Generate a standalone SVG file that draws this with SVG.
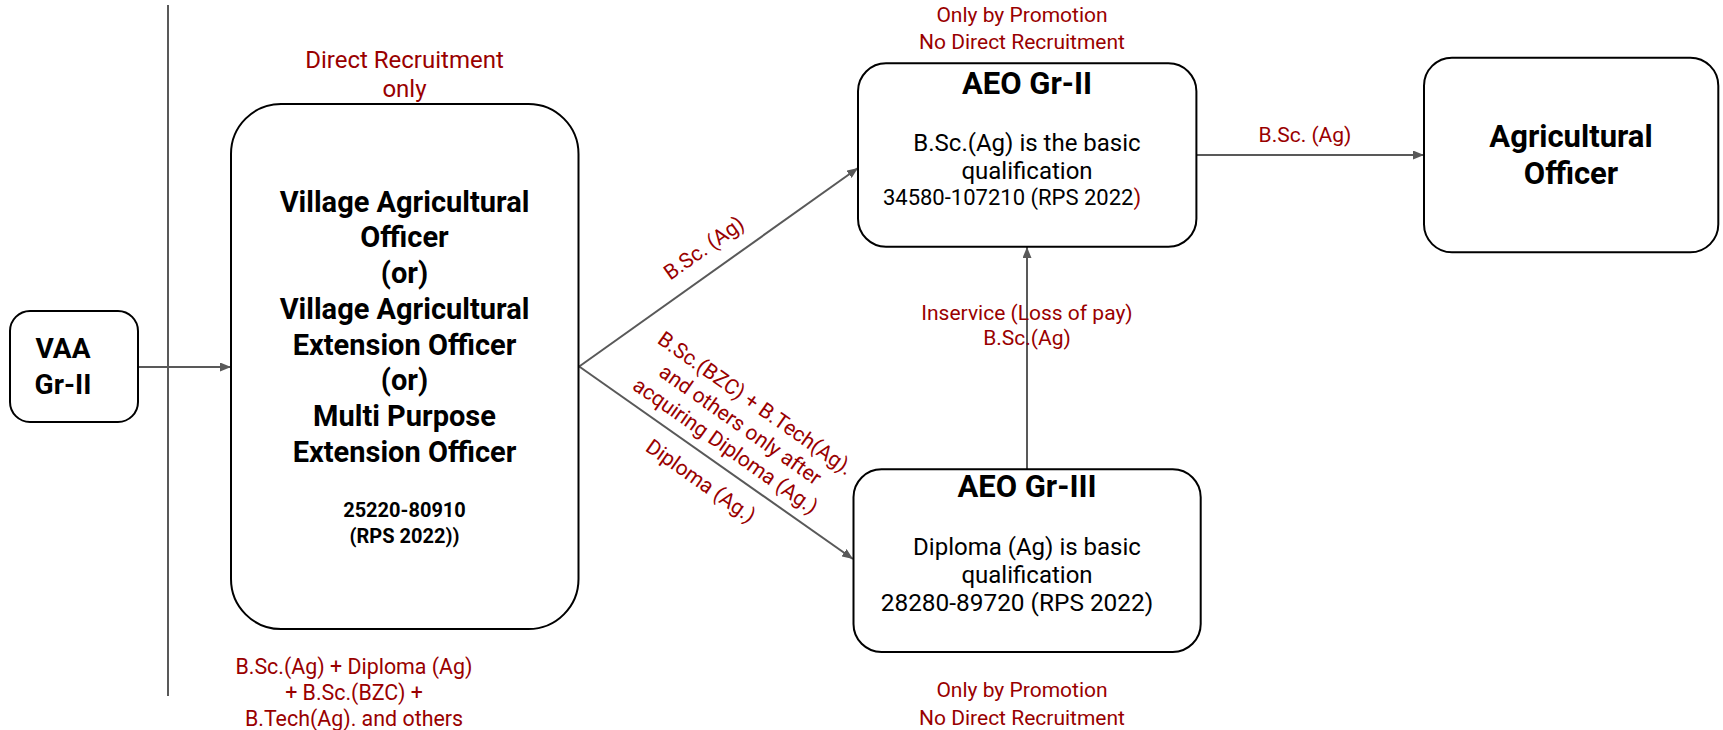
<svg xmlns="http://www.w3.org/2000/svg" width="1723" height="730" viewBox="0 0 1723 730">
<defs>
<style>
.box{fill:#fff;stroke:#000;stroke-width:2}
.con{stroke:#595959;stroke-width:2;fill:none}
.t{font-family:Roboto,"Liberation Sans",sans-serif;fill:#000}
.b{font-weight:bold}
.r{font-family:Roboto,"Liberation Sans",sans-serif;fill:#990000;font-size:21px}
.m{text-anchor:middle}
</style>
<marker id="ah" markerWidth="11" markerHeight="9" refX="11" refY="4.5" orient="auto" markerUnits="userSpaceOnUse">
<path d="M0,0 L11,4.5 L0,9 z" fill="#595959"/>
</marker>
</defs>
<rect width="1723" height="730" fill="#fff"/>

<g id="connectors">
<line class="con" x1="168" y1="5" x2="168" y2="696"/>
<line class="con" x1="138" y1="367" x2="231" y2="367" marker-end="url(#ah)"/>
<line class="con" x1="578.5" y1="367" x2="858" y2="168" marker-end="url(#ah)"/>
<line class="con" x1="578.5" y1="366" x2="853" y2="559" marker-end="url(#ah)"/>
<line class="con" x1="1027" y1="469" x2="1027" y2="247" marker-end="url(#ah)"/>
<line class="con" x1="1196" y1="155" x2="1424" y2="155" marker-end="url(#ah)"/>
<text class="r m" transform="translate(717.8,267.8) rotate(-35.45)" x="0" y="-17">B.Sc. (Ag)</text>
<g transform="translate(714.5,461.5) rotate(35.1)">
<text class="r m" x="0" y="-64">B.Sc.(BZC) + B.Tech(Ag).</text>
<text class="r m" x="0" y="-38">and others only after</text>
<text class="r m" x="0" y="-12">acquiring Diploma (Ag.)</text>
<text class="r m" x="0" y="31">Diploma (Ag.)</text>
</g>
<text class="r m" x="1027" y="320">Inservice (Loss of pay)</text>
<text class="r m" x="1027" y="345">B.Sc.(Ag)</text>
<text class="r m" x="1305" y="141.7">B.Sc. (Ag)</text>
</g>

<g id="vaa">
<rect class="box" x="10" y="311" width="128" height="111" rx="20"/>
<text class="t b m" x="63" y="358" font-size="28">VAA</text>
<text class="t b m" x="63" y="394" font-size="28">Gr-II</text>
</g>

<g id="vao">
<text class="r m" x="404.5" y="68" style="font-size:24px">Direct Recruitment</text>
<text class="r m" x="404.5" y="97" style="font-size:24px">only</text>
<rect class="box" x="231" y="104" width="347.5" height="525" rx="50"/>
<g class="t b m" font-size="29">
<text x="404.5" y="211.5">Village Agricultural</text>
<text x="404.5" y="247">Officer</text>
<text x="404.5" y="283">(or)</text>
<text x="404.5" y="319">Village Agricultural</text>
<text x="404.5" y="354.5">Extension Officer</text>
<text x="404.5" y="390">(or)</text>
<text x="404.5" y="426">Multi Purpose</text>
<text x="404.5" y="462">Extension Officer</text>
</g>
<text class="t b m" x="404.5" y="516.7" font-size="20">25220-80910</text>
<text class="t b m" x="404.5" y="542.7" font-size="20">(RPS 2022))</text>
<text class="r m" x="354" y="674" style="font-size:21.4px">B.Sc.(Ag) + Diploma (Ag)</text>
<text class="r m" x="354" y="700" style="font-size:21.4px">+ B.Sc.(BZC) +</text>
<text class="r m" x="354" y="726" style="font-size:21.4px">B.Tech(Ag). and others</text>
</g>

<g id="aeo2">
<text class="r m" x="1022" y="21.7">Only by Promotion</text>
<text class="r m" x="1022" y="48.5">No Direct Recruitment</text>
<rect class="box" x="858" y="63.3" width="338.4" height="183.4" rx="28"/>
<text class="t b m" x="1027" y="94" font-size="31">AEO Gr-II</text>
<text class="t m" x="1027" y="151" font-size="24">B.Sc.(Ag) is the basic</text>
<text class="t m" x="1027" y="179" font-size="24">qualification</text>
<text class="t m" x="1012" y="205" font-size="22">34580-107210 (RPS 2022<tspan fill="#990000">)</tspan></text>
</g>

<g id="aeo3">
<rect class="box" x="853.5" y="469.3" width="347.2" height="182.7" rx="28"/>
<text class="t b m" x="1027" y="496.7" font-size="31">AEO Gr-III</text>
<text class="t m" x="1027" y="555" font-size="24">Diploma (Ag) is basic</text>
<text class="t m" x="1027" y="583.3" font-size="24">qualification</text>
<text class="t m" x="1017" y="610.7" font-size="24.4">28280-89720 (RPS 2022)</text>
<text class="r m" x="1022" y="697.3">Only by Promotion</text>
<text class="r m" x="1022" y="724.5">No Direct Recruitment</text>
</g>

<g id="ao">
<rect class="box" x="1424" y="57.7" width="294.3" height="194.6" rx="28"/>
<text class="t b m" x="1571" y="147.3" font-size="31">Agricultural</text>
<text class="t b m" x="1571" y="184.3" font-size="31">Officer</text>
</g>
</svg>
